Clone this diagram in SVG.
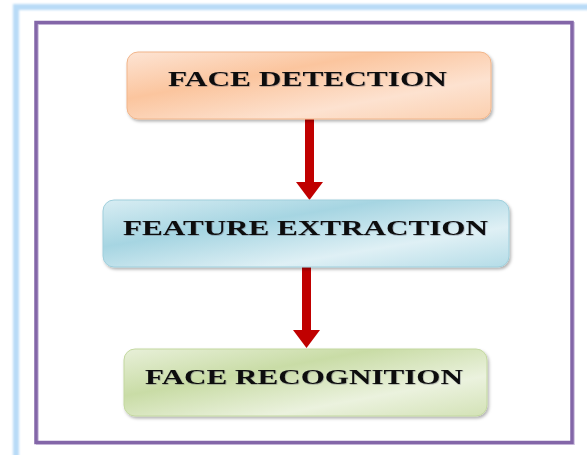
<svg xmlns="http://www.w3.org/2000/svg" width="587" height="455" viewBox="0 0 587 455">
  <style>
    .box { stroke-width: 1; filter: url(#shadow); }
    .label { font-family: "Liberation Serif", "Times New Roman", serif; font-weight: bold; font-size: 21px; fill: #0a0a0a; text-anchor: start; }
    .flow { fill: #c00000; }
  </style>
  <defs>
    <linearGradient id="gOrange" x1="0" y1="0" x2="1" y2="1">
      <stop offset="0" stop-color="#fde4d4"/>
      <stop offset="0.35" stop-color="#fbc59e"/>
      <stop offset="0.7" stop-color="#fde2d0"/>
      <stop offset="1" stop-color="#fbcfae"/>
    </linearGradient>
    <linearGradient id="gBlue" x1="0" y1="0" x2="1" y2="1">
      <stop offset="0" stop-color="#d8edf3"/>
      <stop offset="0.35" stop-color="#a6d5e2"/>
      <stop offset="0.7" stop-color="#dff0f5"/>
      <stop offset="1" stop-color="#b4dce7"/>
    </linearGradient>
    <linearGradient id="gGreen" x1="0" y1="0" x2="1" y2="1">
      <stop offset="0" stop-color="#e8f0d9"/>
      <stop offset="0.35" stop-color="#c9dca6"/>
      <stop offset="0.7" stop-color="#ebf2de"/>
      <stop offset="1" stop-color="#d3e2b6"/>
    </linearGradient>
    <filter id="shadow" x="-5%" y="-10%" width="115%" height="130%">
      <feDropShadow dx="1.5" dy="2" stdDeviation="1.5" flood-color="#000" flood-opacity="0.3"/>
    </filter>
    <filter id="soft" x="-5%" y="-5%" width="110%" height="110%">
      <feGaussianBlur stdDeviation="1"/>
    </filter>
    <filter id="textShade" x="-5%" y="-20%" width="110%" height="140%">
      <feDropShadow dx="0.6" dy="0.6" stdDeviation="0.3" flood-color="#445" flood-opacity="0.5"/>
    </filter>
  </defs>

  <rect width="587" height="455" fill="#ffffff"/>

  <!-- outer page frame -->
  <rect x="16" y="7" width="620" height="500" fill="none" stroke="#b9dbf7" stroke-width="6" filter="url(#soft)"/>

  <!-- inner border -->
  <rect x="37.5" y="23.5" width="536" height="420" fill="none" stroke="#c7b9db" stroke-width="3" opacity="0.7"/>
  <rect x="36" y="22.5" width="536" height="420" fill="none" stroke="#8366a8" stroke-width="3.5"/>

  <!-- connectors -->
  <g id="connectors">
    <path class="flow" d="M305 119 H314 V182 H323 L309.5 200 L296 182 H305 Z"/>
    <path class="flow" d="M302 267 H311 V330 H320 L306.5 348 L293 330 H302 Z"/>
  </g>

  <g id="face-detection">
    <rect class="box" x="127" y="52" width="364" height="67" rx="11" fill="url(#gOrange)" stroke="#f1b58a"/>
    <text class="label" x="168" y="85.5" textLength="279" lengthAdjust="spacingAndGlyphs" filter="url(#textShade)">FACE DETECTION</text>
  </g>

  <g id="feature-extraction">
    <rect class="box" x="103" y="200" width="406" height="67" rx="11" fill="url(#gBlue)" stroke="#9fcfdc"/>
    <text class="label" x="123" y="234.5" textLength="365" lengthAdjust="spacingAndGlyphs" filter="url(#textShade)">FEATURE EXTRACTION</text>
  </g>

  <g id="face-recognition">
    <rect class="box" x="124" y="349" width="363" height="67" rx="11" fill="url(#gGreen)" stroke="#c3d8a0"/>
    <text class="label" x="145" y="383.5" textLength="318" lengthAdjust="spacingAndGlyphs" filter="url(#textShade)">FACE RECOGNITION</text>
  </g>
</svg>
